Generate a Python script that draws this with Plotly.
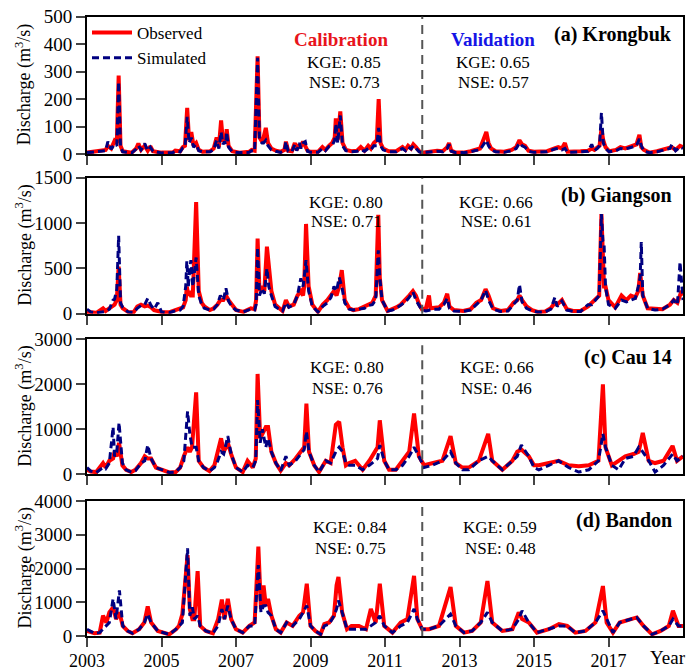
import plotly.graph_objects as go

# ---------------- DATA (decimal year, observed, simulated) ----------------
KRONGBUK = [
    (2003.00, 5, 5), (2003.30, 10, 8), (2003.50, 15, 12), (2003.56, 30, 45), (2003.65, 20, 18),
    (2003.74, 48, 35), (2003.80, 40, 30), (2003.85, 285, 262), (2003.90, 30, 25), (2003.96, 10, 8),
    (2004.20, 5, 4), (2004.32, 20, 18), (2004.38, 38, 30), (2004.45, 15, 15), (2004.55, 30, 38),
    (2004.63, 12, 12), (2004.70, 28, 25), (2004.77, 10, 10), (2005.00, 5, 4), (2005.30, 5, 5),
    (2005.37, 12, 10), (2005.50, 10, 8), (2005.57, 25, 22), (2005.63, 30, 25), (2005.69, 168, 135),
    (2005.74, 50, 40), (2005.80, 80, 60), (2005.86, 30, 25), (2005.93, 40, 35), (2006.00, 15, 12),
    (2006.10, 8, 8), (2006.30, 10, 8), (2006.40, 20, 15), (2006.48, 60, 50), (2006.54, 25, 20),
    (2006.60, 122, 80), (2006.65, 45, 35), (2006.69, 60, 45), (2006.72, 40, 35), (2006.75, 90, 80),
    (2006.80, 30, 25), (2006.90, 10, 8), (2007.10, 5, 5), (2007.35, 8, 6), (2007.42, 15, 12),
    (2007.50, 12, 10), (2007.58, 355, 350), (2007.63, 60, 50), (2007.70, 45, 40), (2007.74, 60, 40),
    (2007.80, 95, 50), (2007.86, 40, 30), (2007.95, 20, 15), (2008.07, 12, 10), (2008.20, 8, 6),
    (2008.30, 15, 12), (2008.34, 45, 45), (2008.40, 12, 10), (2008.50, 10, 8), (2008.58, 40, 35),
    (2008.63, 15, 12), (2008.70, 35, 40), (2008.74, 25, 20), (2008.80, 45, 40), (2008.86, 30, 45),
    (2008.92, 12, 10), (2009.00, 8, 6), (2009.20, 8, 6), (2009.32, 25, 20), (2009.40, 15, 12),
    (2009.50, 30, 28), (2009.58, 40, 30), (2009.65, 60, 50), (2009.68, 130, 110), (2009.73, 50, 40),
    (2009.80, 155, 140), (2009.86, 40, 30), (2009.95, 15, 12), (2010.10, 10, 8), (2010.25, 12, 10),
    (2010.35, 25, 15), (2010.45, 12, 10), (2010.55, 30, 20), (2010.62, 20, 15), (2010.70, 40, 30),
    (2010.78, 50, 30), (2010.83, 200, 95), (2010.88, 40, 30), (2010.95, 20, 15), (2011.10, 10, 8),
    (2011.30, 10, 8), (2011.47, 25, 20), (2011.55, 15, 12), (2011.62, 30, 25), (2011.70, 20, 18),
    (2011.76, 35, 30), (2011.83, 25, 20), (2011.92, 10, 8), (2012.00, 5, 5), (2012.25, 10, 8),
    (2012.40, 12, 10), (2012.55, 10, 8), (2012.67, 25, 20), (2012.72, 40, 35), (2012.78, 12, 10),
    (2012.90, 5, 5), (2013.10, 5, 5), (2013.30, 10, 8), (2013.40, 15, 12), (2013.55, 20, 15),
    (2013.65, 55, 35), (2013.72, 80, 50), (2013.78, 40, 30), (2013.85, 20, 15), (2013.97, 10, 8),
    (2014.20, 8, 6), (2014.40, 15, 12), (2014.52, 25, 20), (2014.61, 50, 40), (2014.68, 35, 30),
    (2014.76, 30, 25), (2014.85, 12, 10), (2015.00, 8, 6), (2015.20, 8, 6), (2015.35, 10, 8),
    (2015.55, 20, 18), (2015.65, 25, 20), (2015.75, 20, 15), (2015.83, 40, 20), (2015.90, 8, 6),
    (2016.10, 8, 6), (2016.25, 10, 8), (2016.45, 12, 10), (2016.55, 20, 35), (2016.62, 15, 12),
    (2016.70, 25, 20), (2016.76, 30, 30), (2016.81, 90, 150), (2016.86, 50, 40), (2016.92, 25, 20),
    (2017.02, 10, 8), (2017.20, 15, 12), (2017.32, 25, 20), (2017.45, 20, 18), (2017.55, 25, 22),
    (2017.65, 30, 25), (2017.75, 35, 30), (2017.83, 70, 55), (2017.88, 25, 30), (2017.95, 15, 10),
    (2018.10, 5, 5), (2018.30, 10, 8), (2018.45, 15, 12), (2018.55, 20, 15), (2018.65, 25, 20),
    (2018.70, 25, 35), (2018.80, 15, 12), (2018.92, 30, 25), (2019.00, 25, 20),
]

GIANGSON = [
    (2003.00, 20, 50), (2003.10, 15, 20), (2003.25, 10, 10), (2003.43, 60, 20), (2003.50, 30, 25),
    (2003.60, 60, 50), (2003.70, 80, 150), (2003.74, 100, 160), (2003.80, 150, 270), (2003.85, 520, 860),
    (2003.90, 100, 120), (2003.96, 60, 70), (2004.10, 20, 20), (2004.25, 15, 15), (2004.35, 80, 60),
    (2004.45, 100, 90), (2004.55, 80, 100), (2004.63, 90, 170), (2004.72, 70, 90), (2004.80, 40, 50),
    (2004.90, 30, 120), (2005.00, 20, 20), (2005.20, 15, 10), (2005.35, 40, 30), (2005.50, 60, 40),
    (2005.58, 70, 80), (2005.65, 150, 300), (2005.68, 300, 580), (2005.72, 200, 300), (2005.76, 250, 500),
    (2005.79, 200, 590), (2005.84, 200, 300), (2005.93, 1230, 620), (2006.00, 250, 200), (2006.08, 120, 100),
    (2006.15, 80, 60), (2006.30, 40, 40), (2006.40, 60, 50), (2006.50, 100, 100), (2006.58, 150, 200),
    (2006.66, 150, 150), (2006.73, 200, 280), (2006.80, 150, 140), (2006.88, 100, 80), (2007.00, 40, 40),
    (2007.20, 20, 20), (2007.40, 60, 50), (2007.50, 50, 40), (2007.54, 150, 100), (2007.58, 830, 730),
    (2007.63, 250, 200), (2007.70, 300, 280), (2007.76, 250, 220), (2007.83, 740, 500), (2007.88, 550, 300),
    (2007.95, 250, 200), (2008.05, 100, 80), (2008.12, 80, 60), (2008.25, 30, 30), (2008.34, 150, 120),
    (2008.42, 80, 70), (2008.55, 100, 100), (2008.65, 200, 200), (2008.74, 250, 390), (2008.80, 200, 300),
    (2008.83, 300, 400), (2008.88, 990, 590), (2008.95, 300, 250), (2009.05, 100, 80), (2009.20, 20, 20),
    (2009.33, 100, 80), (2009.45, 150, 120), (2009.55, 200, 180), (2009.63, 250, 300), (2009.70, 200, 250),
    (2009.77, 300, 400), (2009.84, 480, 300), (2009.92, 150, 120), (2010.04, 60, 50), (2010.15, 40, 40),
    (2010.30, 50, 50), (2010.45, 80, 60), (2010.55, 100, 90), (2010.66, 120, 100), (2010.75, 200, 150),
    (2010.82, 1090, 700), (2010.86, 400, 400), (2010.92, 150, 150), (2011.07, 30, 30), (2011.20, 50, 40),
    (2011.30, 70, 60), (2011.42, 100, 90), (2011.55, 150, 130), (2011.65, 200, 180), (2011.75, 250, 240),
    (2011.83, 200, 150), (2011.92, 100, 80), (2011.99, 50, 40), (2012.10, 60, 30), (2012.18, 200, 40),
    (2012.22, 60, 40), (2012.32, 60, 50), (2012.45, 70, 50), (2012.58, 120, 100), (2012.67, 220, 170),
    (2012.73, 80, 60), (2012.85, 40, 30), (2013.10, 30, 25), (2013.30, 50, 40), (2013.45, 120, 100),
    (2013.58, 150, 150), (2013.70, 270, 260), (2013.78, 200, 150), (2013.90, 60, 50), (2014.10, 30, 25),
    (2014.30, 40, 30), (2014.45, 120, 100), (2014.55, 150, 150), (2014.61, 200, 320), (2014.68, 150, 130),
    (2014.80, 80, 60), (2014.95, 40, 30), (2015.10, 20, 20), (2015.30, 25, 20), (2015.45, 60, 50),
    (2015.56, 120, 180), (2015.62, 100, 80), (2015.75, 150, 140), (2015.88, 50, 40), (2016.05, 30, 25),
    (2016.25, 30, 25), (2016.45, 80, 100), (2016.55, 120, 100), (2016.65, 150, 150), (2016.75, 200, 200),
    (2016.81, 1100, 1100), (2016.85, 500, 800), (2016.88, 300, 780), (2016.92, 300, 300), (2017.00, 150, 100),
    (2017.18, 70, 60), (2017.35, 200, 150), (2017.48, 150, 130), (2017.60, 200, 150), (2017.72, 180, 170),
    (2017.80, 250, 300), (2017.85, 450, 400), (2017.88, 300, 790), (2017.92, 200, 200), (2018.05, 60, 60),
    (2018.25, 50, 40), (2018.45, 50, 50), (2018.65, 100, 100), (2018.75, 150, 150), (2018.85, 120, 100),
    (2018.92, 200, 570), (2018.96, 250, 300), (2019.00, 200, 150),
]

CAU14 = [
    (2003.00, 100, 150), (2003.10, 60, 70), (2003.25, 50, 40), (2003.43, 250, 150), (2003.50, 150, 120),
    (2003.60, 300, 250), (2003.70, 350, 1050), (2003.74, 500, 400), (2003.80, 400, 500), (2003.86, 700, 1150),
    (2003.95, 200, 250), (2004.05, 100, 100), (2004.19, 50, 50), (2004.30, 100, 80), (2004.45, 250, 250),
    (2004.55, 400, 300), (2004.63, 350, 650), (2004.72, 350, 350), (2004.85, 150, 150), (2005.02, 100, 100),
    (2005.21, 40, 40), (2005.38, 50, 50), (2005.50, 150, 150), (2005.60, 400, 300), (2005.70, 600, 1400),
    (2005.76, 500, 900), (2005.82, 600, 600), (2005.93, 1820, 600), (2006.00, 300, 300), (2006.13, 150, 150),
    (2006.29, 70, 70), (2006.42, 200, 150), (2006.51, 500, 300), (2006.60, 800, 500), (2006.67, 500, 450),
    (2006.78, 700, 850), (2006.87, 450, 450), (2007.00, 150, 150), (2007.18, 50, 50), (2007.31, 300, 200),
    (2007.45, 150, 150), (2007.53, 350, 300), (2007.58, 2230, 1650), (2007.65, 800, 700), (2007.71, 900, 1000),
    (2007.80, 1050, 600), (2007.86, 1050, 800), (2007.95, 500, 500), (2008.07, 250, 250), (2008.20, 80, 80),
    (2008.34, 250, 400), (2008.43, 200, 200), (2008.60, 350, 300), (2008.74, 500, 450), (2008.83, 600, 550),
    (2008.89, 1570, 950), (2008.96, 500, 500), (2009.10, 200, 200), (2009.23, 50, 50), (2009.41, 300, 300),
    (2009.54, 250, 250), (2009.68, 1100, 500), (2009.77, 1170, 600), (2009.86, 600, 500), (2009.95, 200, 250),
    (2010.04, 250, 200), (2010.20, 300, 200), (2010.40, 100, 100), (2010.58, 300, 200), (2010.80, 600, 350),
    (2010.86, 1200, 650), (2010.98, 300, 300), (2011.11, 100, 100), (2011.29, 100, 100), (2011.47, 300, 200),
    (2011.65, 500, 400), (2011.78, 1350, 600), (2011.91, 400, 400), (2012.05, 200, 150), (2012.27, 250, 200),
    (2012.54, 300, 300), (2012.76, 850, 500), (2012.90, 250, 250), (2013.08, 150, 100), (2013.25, 150, 100),
    (2013.52, 300, 300), (2013.77, 900, 400), (2013.88, 300, 300), (2014.15, 100, 100), (2014.42, 300, 300),
    (2014.55, 500, 400), (2014.66, 550, 650), (2014.86, 400, 400), (2015.00, 200, 150), (2015.13, 200, 100),
    (2015.40, 250, 200), (2015.66, 300, 300), (2015.93, 200, 150), (2016.20, 180, 50), (2016.47, 200, 100),
    (2016.73, 300, 300), (2016.85, 2000, 900), (2016.92, 600, 600), (2017.09, 200, 200), (2017.27, 300, 100),
    (2017.45, 400, 350), (2017.67, 450, 400), (2017.81, 500, 600), (2017.92, 920, 500), (2018.08, 300, 300),
    (2018.25, 250, 50), (2018.48, 300, 200), (2018.72, 630, 450), (2018.84, 300, 300), (2019.00, 400, 400),
]

BANDON = [
    (2003.00, 150, 200), (2003.20, 80, 80), (2003.34, 100, 100), (2003.43, 600, 200), (2003.52, 400, 300),
    (2003.60, 700, 400), (2003.70, 850, 1100), (2003.78, 500, 500), (2003.87, 700, 1350), (2003.96, 300, 300),
    (2004.09, 150, 150), (2004.22, 80, 80), (2004.40, 200, 200), (2004.54, 400, 400), (2004.63, 880, 650),
    (2004.72, 400, 400), (2004.90, 150, 150), (2005.04, 100, 100), (2005.21, 50, 50), (2005.39, 200, 200),
    (2005.47, 300, 300), (2005.56, 650, 400), (2005.70, 2400, 2600), (2005.76, 800, 600), (2005.83, 500, 850),
    (2005.88, 500, 500), (2005.97, 1920, 600), (2006.04, 300, 300), (2006.19, 150, 150), (2006.38, 80, 80),
    (2006.52, 500, 300), (2006.62, 1080, 800), (2006.69, 500, 500), (2006.78, 1100, 900), (2006.87, 500, 500),
    (2007.00, 200, 200), (2007.18, 100, 100), (2007.36, 300, 300), (2007.50, 400, 300), (2007.60, 2650, 2100),
    (2007.67, 800, 700), (2007.74, 1500, 900), (2007.80, 900, 900), (2007.86, 1100, 700), (2007.95, 600, 600),
    (2008.07, 200, 200), (2008.20, 100, 100), (2008.36, 400, 400), (2008.52, 300, 300), (2008.70, 600, 500),
    (2008.80, 700, 700), (2008.90, 1550, 900), (2009.00, 300, 300), (2009.13, 150, 150), (2009.27, 50, 50),
    (2009.37, 350, 300), (2009.50, 400, 350), (2009.63, 600, 600), (2009.70, 1500, 800), (2009.75, 1750, 1050),
    (2009.85, 700, 700), (2009.98, 200, 200), (2010.10, 300, 200), (2010.30, 300, 200), (2010.49, 200, 200),
    (2010.62, 800, 300), (2010.75, 400, 400), (2010.86, 1550, 600), (2010.98, 300, 300), (2011.20, 100, 100),
    (2011.42, 400, 300), (2011.60, 500, 400), (2011.78, 1780, 800), (2011.87, 500, 500), (2012.00, 200, 200),
    (2012.18, 200, 200), (2012.45, 300, 300), (2012.76, 1450, 650), (2012.90, 300, 300), (2013.12, 100, 100),
    (2013.34, 150, 150), (2013.57, 400, 400), (2013.75, 1630, 700), (2013.88, 400, 400), (2014.15, 150, 150),
    (2014.42, 200, 200), (2014.59, 700, 500), (2014.68, 500, 750), (2014.86, 400, 400), (2015.08, 100, 100),
    (2015.40, 200, 200), (2015.67, 350, 300), (2015.89, 300, 300), (2016.11, 100, 100), (2016.38, 150, 150),
    (2016.65, 400, 400), (2016.85, 1480, 750), (2016.95, 400, 500), (2017.12, 100, 100), (2017.30, 400, 400),
    (2017.48, 450, 450), (2017.76, 550, 550), (2017.94, 300, 300), (2018.17, 50, 50), (2018.40, 150, 150),
    (2018.62, 300, 300), (2018.73, 750, 500), (2018.88, 300, 300), (2019.00, 300, 300),
]

station_names = ["(a) Krongbuk", "(b) Giangson", "(c) Cau 14", "(d) Bandon"]
station_tables = [KRONGBUK, GIANGSON, CAU14, BANDON]
y_max = [500, 1500, 3000, 4000]
y_dtick = [100, 500, 1000, 1000]
kge_cal = ["0.85", "0.80", "0.80", "0.84"]
nse_cal = ["0.73", "0.71", "0.76", "0.75"]
kge_val = ["0.65", "0.66", "0.66", "0.59"]
nse_val = ["0.57", "0.61", "0.46", "0.48"]
split_year = 2012.0
year_ticks = [2003, 2005, 2007, 2009, 2011, 2013, 2015, 2017]

# ---------------- LAYOUT GEOMETRY ----------------
W, H = 699, 671
ML, MR, MT, MB = 87, 16, 16, 35
PW, PH = W - ML - MR, H - MT - MB
panel_px = [(16.5, 154), (177.7, 313.7), (339.3, 474.3), (501, 636)]  # top, bottom pixels


def px_x(px):
    return (px - ML) / PW


def px_y(py):
    return (H - MB - py) / PH


FONT = "Liberation Serif, Times New Roman, serif"
RED = "#FF0000"
NAVY = "#000080"

fig = go.Figure()
layout = dict(
    width=W, height=H,
    margin=dict(l=ML, r=MR, t=MT, b=MB, autoexpand=False),
    paper_bgcolor="white", plot_bgcolor="white",
    font=dict(family=FONT, size=17, color="black"),
    showlegend=True,
    legend=dict(x=0.0, y=px_y(15), xanchor="left", yanchor="top", bgcolor="rgba(0,0,0,0)",
                font=dict(size=17), tracegroupgap=0, itemwidth=40),
)

annotations = []
shapes = []
for i, (tbl, name) in enumerate(zip(station_tables, station_names)):
    t = [r[0] for r in tbl]
    obs = [r[1] for r in tbl]
    sim = [r[2] for r in tbl]
    xa = "x" if i == 0 else f"x{i+1}"
    ya = "y" if i == 0 else f"y{i+1}"
    fig.add_trace(go.Scatter(x=t, y=obs, mode="lines", name="Observed",
                             line=dict(color=RED, width=4), xaxis=xa, yaxis=ya,
                             showlegend=(i == 0)))
    fig.add_trace(go.Scatter(x=t, y=sim, mode="lines", name="Simulated",
                             line=dict(color=NAVY, width=3, dash="7px,4px"), xaxis=xa, yaxis=ya,
                             showlegend=(i == 0)))
    top, bot = panel_px[i]
    dom = [px_y(bot), min(1.0, px_y(top))]
    xkey = "xaxis" if i == 0 else f"xaxis{i+1}"
    ykey = "yaxis" if i == 0 else f"yaxis{i+1}"
    xax = dict(domain=[0, 1], anchor=ya, range=[2003, 2019], tickmode="array",
               tickvals=year_ticks, ticktext=[str(v) for v in year_ticks],
               ticks="outside", ticklen=9, tickwidth=2, automargin=False,
               showline=True, linewidth=2, linecolor="black", mirror=True,
               showgrid=False, zeroline=False, tickfont=dict(size=18))
    if i == 3:
        xax.update(showticklabels=True, ticklabelstandoff=-2)
    else:
        xax.update(showticklabels=False)
    layout[xkey] = xax
    layout[ykey] = dict(domain=dom, anchor=xa, range=[0, y_max[i]], dtick=y_dtick[i],
                        ticks="outside", ticklen=9, tickwidth=2, automargin=False,
                        showline=True, linewidth=2, linecolor="black", mirror=True,
                        showgrid=False, zeroline=False, tickfont=dict(size=19))
    shapes.append(dict(type="line", xref=xa, yref=f"{ya} domain", x0=split_year, x1=split_year,
                       y0=0, y1=1, line=dict(color="#555555", width=2, dash="9px,6px")))
    # y-axis title
    annotations.append(dict(text="Discharge (m<sup>3</sup>/s)", xref="paper", yref="paper",
                            x=px_x(24), y=px_y((top + bot) / 2), textangle=-90, showarrow=False,
                            xanchor="center", yanchor="middle", font=dict(size=18)))
    # station label
    lab_y = [34, 196, 357, 520][i]
    annotations.append(dict(text=f"<b>{name}</b>", xref="paper", yref="paper",
                            x=px_x(674), y=px_y(lab_y), xanchor="right", yanchor="middle",
                            showarrow=False, font=dict(size=20)))
    k_y = [62, 202, 367, 527][i]
    n_y = [83, 221, 388, 548][i]
    cx = [344, 346, 347, 350][i]
    vx = [493, 496, 497, 500][i]
    annotations.append(dict(text=f"KGE: {kge_cal[i]}", xref="paper", yref="paper", x=px_x(cx),
                            y=px_y(k_y), xanchor="center", yanchor="middle", showarrow=False))
    annotations.append(dict(text=f"NSE: {nse_cal[i]}", xref="paper", yref="paper", x=px_x(cx),
                            y=px_y(n_y), xanchor="center", yanchor="middle", showarrow=False))
    annotations.append(dict(text=f"KGE: {kge_val[i]}", xref="paper", yref="paper", x=px_x(vx),
                            y=px_y(k_y), xanchor="center", yanchor="middle", showarrow=False))
    annotations.append(dict(text=f"NSE: {nse_val[i]}", xref="paper", yref="paper", x=px_x(vx),
                            y=px_y(n_y), xanchor="center", yanchor="middle", showarrow=False))

annotations.append(dict(text="<b>Calibration</b>", xref="paper", yref="paper", x=px_x(341),
                        y=px_y(40), xanchor="center", yanchor="middle", showarrow=False,
                        font=dict(size=19, color="#E8141B")))
annotations.append(dict(text="<b>Validation</b>", xref="paper", yref="paper", x=px_x(493),
                        y=px_y(40), xanchor="center", yanchor="middle", showarrow=False,
                        font=dict(size=19, color="#1414E6")))
annotations.append(dict(text="Year", xref="paper", yref="paper", x=px_x(668), y=px_y(657),
                        xanchor="center", yanchor="middle", showarrow=False, font=dict(size=19)))

layout["annotations"] = annotations
layout["shapes"] = shapes
fig.update_layout(**layout)
fig.write_html("out.html")
